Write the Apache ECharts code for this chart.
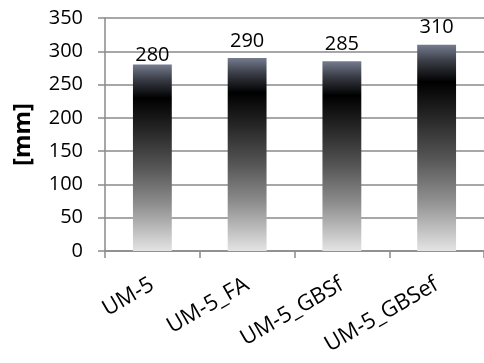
<!DOCTYPE html>
<html>
<head>
<meta charset="utf-8">
<script src="https://cdn.jsdelivr.net/npm/echarts@6/dist/echarts.min.js"></script>
<style>
  html, body { margin: 0; padding: 0; background: #fff; }
  #chart { width: 484px; height: 363px; }
</style>
</head>
<body>
<div id="chart"></div>
<script>
// Chart data
const categories = ['UM-5', 'UM-5_FA', 'UM-5_GBSf', 'UM-5_GBSef'];
const values = [280, 290, 285, 310];
const yTicks = [0, 50, 100, 150, 200, 250, 300, 350];
const yTitle = '[mm]';

const FONT = '"Open Sans", "Liberation Sans", sans-serif';

// Metallic vertical fill: blue-grey cap, black band, fading to light grey
const barFill = new echarts.graphic.LinearGradient(0, 0, 0, 1, [
  { offset: 0, color: '#767c90' },
  { offset: 0.08, color: '#3a3d46' },
  { offset: 0.18, color: '#000000' },
  { offset: 0.35, color: '#262626' },
  { offset: 0.55, color: '#555555' },
  { offset: 0.75, color: '#8e8e8e' },
  { offset: 1, color: '#e4e4e4' }
]);

// The first value label sits right on its bar
const barData = values.map((v, i) => (
  i === 0 ? { value: v, label: { distance: -1 } } : v
));

const chart = echarts.init(document.getElementById('chart'), null, { renderer: 'canvas' });

chart.setOption({
  animation: false,
  backgroundColor: '#ffffff',
  grid: { left: 105, right: 0, top: 18, bottom: 112, containLabel: false },
  xAxis: {
    type: 'category',
    data: categories,
    axisLine: { show: true, lineStyle: { color: '#8a8a8a', width: 1.5 } },
    axisTick: { show: true, length: 7, alignWithLabel: false, lineStyle: { color: '#8a8a8a', width: 1.5 } },
    axisLabel: {
      rotate: 30,
      margin: 32,
      color: '#000',
      fontFamily: FONT,
      fontSize: 22
    }
  },
  yAxis: {
    type: 'value',
    min: yTicks[0],
    max: yTicks[yTicks.length - 1],
    interval: yTicks[1] - yTicks[0],
    name: yTitle,
    nameLocation: 'middle',
    nameGap: 70,
    nameRotate: 90,
    nameTextStyle: { color: '#000', fontFamily: FONT, fontSize: 24, fontWeight: 'bold' },
    axisLine: { show: true, lineStyle: { color: '#8a8a8a', width: 1.5 } },
    axisTick: { show: true, inside: false, length: 7, lineStyle: { color: '#8a8a8a', width: 1.5 } },
    axisLabel: { color: '#000', fontFamily: FONT, fontSize: 20, margin: 22 },
    splitLine: { show: true, lineStyle: { color: '#8a8a8a', width: 1.5 } }
  },
  series: [{
    type: 'bar',
    data: barData,
    barCategoryGap: '59%',
    itemStyle: { color: barFill },
    label: {
      show: true,
      position: 'top',
      distance: 7,
      color: '#000',
      fontFamily: FONT,
      fontSize: 20
    }
  }]
});
</script>
</body>
</html>
